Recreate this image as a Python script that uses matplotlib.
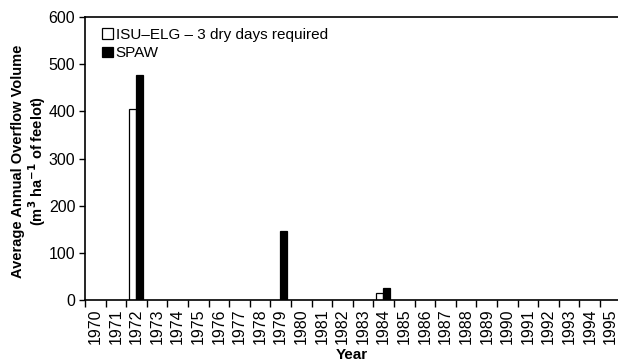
import matplotlib
matplotlib.use("Agg")
import matplotlib.pyplot as plt
import numpy as np

years = [str(y) for y in range(1970, 1996)]
isu_elg = [0, 0, 406, 0, 0, 0, 0, 0, 0, 0, 0, 0, 0, 0, 15, 0, 0, 0, 0, 0, 0, 0, 0, 0, 0, 0]
spaw = [0, 0, 478, 0, 0, 0, 0, 0, 0, 147, 0, 0, 0, 0, 25, 0, 0, 0, 0, 0, 0, 0, 0, 0, 0, 0]
series_names = ["ISU\u2013ELG \u2013 3 dry days required", "SPAW"]
yticks = [0, 100, 200, 300, 400, 500, 600]
ylabel_lines = ["Average Annual Overflow Volume",
                "(m$^{\\mathbf{3}}$ ha$^{\\mathbf{-1}}$ of feelot)"]

plt.rcParams['font.family'] = ['Liberation Sans', 'DejaVu Sans']

fig = plt.figure(figsize=(6.18, 3.64), dpi=100)
ax = fig.add_axes([0.1375, 0.176, 0.8625, 0.777])

x = np.arange(len(years))
w = 0.33
isu_mask = np.array(isu_elg) > 0
ax.bar(x[isu_mask] - 0.2, np.array(isu_elg)[isu_mask], width=w, color='white',
       edgecolor='black', linewidth=0.9, label=series_names[0])
spaw_mask = np.array(spaw) > 0
ax.bar(x[spaw_mask] + 0.15, np.array(spaw)[spaw_mask], width=w, color='black',
       edgecolor='black', linewidth=0.9, label=series_names[1])

ax.set_xlim(-0.5, 25.37)
ax.set_ylim(0, 600)
ax.set_yticks(yticks)
ax.set_yticklabels([str(v) for v in yticks], fontsize=11.5)
ax.set_xticks(np.arange(-0.5, 25.5, 1.0))
ax.set_xticklabels([])
ax.set_xticks(x, minor=True)
ax.set_xticklabels(years, minor=True, rotation=90, fontsize=11.5)
ax.tick_params(axis='x', which='minor', length=0, pad=6)
ax.tick_params(axis='x', which='major', length=5, width=1, direction='out')
ax.tick_params(axis='y', length=4, width=1, direction='out', pad=3)

for s in ['left', 'bottom', 'top']:
    ax.spines[s].set_linewidth(1.2)
ax.spines['right'].set_visible(False)

ax.set_xlabel("Year", fontsize=11, fontweight='bold', labelpad=3)
fig.text(18 / 618, 1 - 161 / 364, ylabel_lines[0], rotation=90, ha='center', va='center',
         fontsize=10.5, fontweight='bold')
fig.text(37 / 618, 1 - 161 / 364, ylabel_lines[1], rotation=90, ha='center', va='center',
         fontsize=10.5, fontweight='bold')

leg = ax.legend(loc='upper left', bbox_to_anchor=(0.012, 1.0), frameon=False, fontsize=11,
                handlelength=0.7, handleheight=0.7, handletextpad=0.2, labelspacing=0.3,
                borderaxespad=0.3)

fig.savefig("out.png", dpi=100)
